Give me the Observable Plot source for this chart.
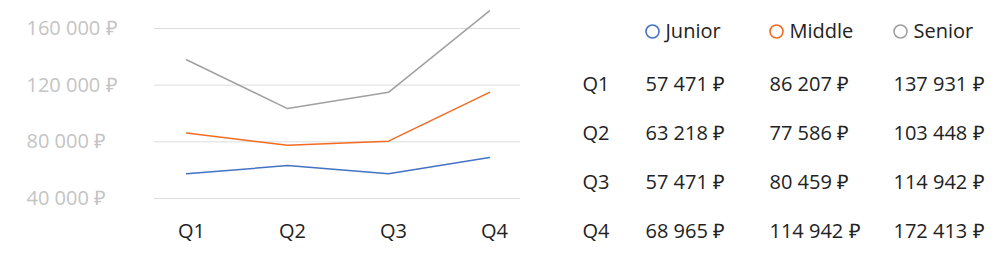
<!DOCTYPE html>
<html><head><meta charset="utf-8">
<script src="https://cdn.jsdelivr.net/npm/d3@7"></script>
<script src="https://cdn.jsdelivr.net/npm/@observablehq/plot@0.6"></script>
<style>
body{margin:0;background:#fff;}
#wrap{display:flex;width:1007px;height:270px;}
svg{font-family:"Open Sans",sans-serif;}
</style></head>
<body><div id="wrap"></div>
<script>
const quarters = ["Q1","Q2","Q3","Q4"];
const series = ["Junior","Middle","Senior"];
const junior = [57471, 63218, 57471, 68965];
const middle = [86207, 77586, 80459, 114942];
const senior = [137931, 103448, 114942, 172413];
const yTicks = [40000, 80000, 120000, 160000];
const colors = ["#4472c4","#f26b21","#a0a0a0"];

const valuesBySeries = {Junior: junior, Middle: middle, Senior: senior};
const data = series.flatMap(s => quarters.map((q,i) => ({series:s, quarter:q, value:valuesBySeries[s][i]})));
const fmt = v => d3.format(",")(v).replace(/,/g, " ") + " ₽";
const FONT = "'Open Sans', sans-serif";

const chart = Plot.plot({
  width: 560, height: 270,
  marginLeft: 154, marginRight: 40, marginTop: 28, marginBottom: 72,
  style: {fontSize: "20px", fontFamily: FONT, background: "#fff"},
  x: {type: "point", domain: quarters, padding: 0.305, axis: null},
  y: {domain: [40000, 160000], axis: null},
  color: {domain: series, range: colors},
  marks: [
    Plot.ruleY(yTicks, {stroke: "#dcdcdc", strokeWidth: 1}),
    Plot.text(yTicks, {y: d => d, text: fmt, frameAnchor: "left", dx: -128, textAnchor: "start", fill: "#c4c4c4", fontSize: 20, letterSpacing: 1.3}),
    Plot.text(quarters, {x: d => d, text: d => d, frameAnchor: "bottom", lineAnchor: "middle", dy: 33, dx: 5, fill: "#222", fontSize: 20}),
    Plot.lineY(data, {x: "quarter", y: "value", stroke: "series", strokeWidth: 1.5})
  ]
});

const table = Plot.plot({
  width: 447, height: 270,
  marginLeft: 85, marginRight: 114, marginTop: 83, marginBottom: 39,
  style: {fontSize: "20px", fontFamily: FONT, background: "#fff"},
  x: {type: "point", domain: series, padding: 0, axis: null},
  y: {type: "point", domain: quarters, padding: 0, axis: null},
  color: {domain: series, range: colors},
  marks: [
    Plot.dot(series, {x: d => d, frameAnchor: "top", dy: -52, dx: 7, r: 6.5, stroke: d => d, fill: "white", strokeWidth: 1.6}),
    Plot.text(series, {x: d => d, text: d => d, frameAnchor: "top", lineAnchor: "middle", dy: -52, dx: 20, textAnchor: "start", fill: "#222", fontSize: 20}),
    Plot.text(quarters, {y: d => d, text: d => d, frameAnchor: "left", dx: -63, textAnchor: "start", fill: "#222", fontSize: 20}),
    Plot.text(data, {x: "series", y: "quarter", text: d => fmt(d.value), textAnchor: "start", fill: "#222", fontSize: 20})
  ]
});

document.getElementById("wrap").append(chart, table);
</script></body></html>
